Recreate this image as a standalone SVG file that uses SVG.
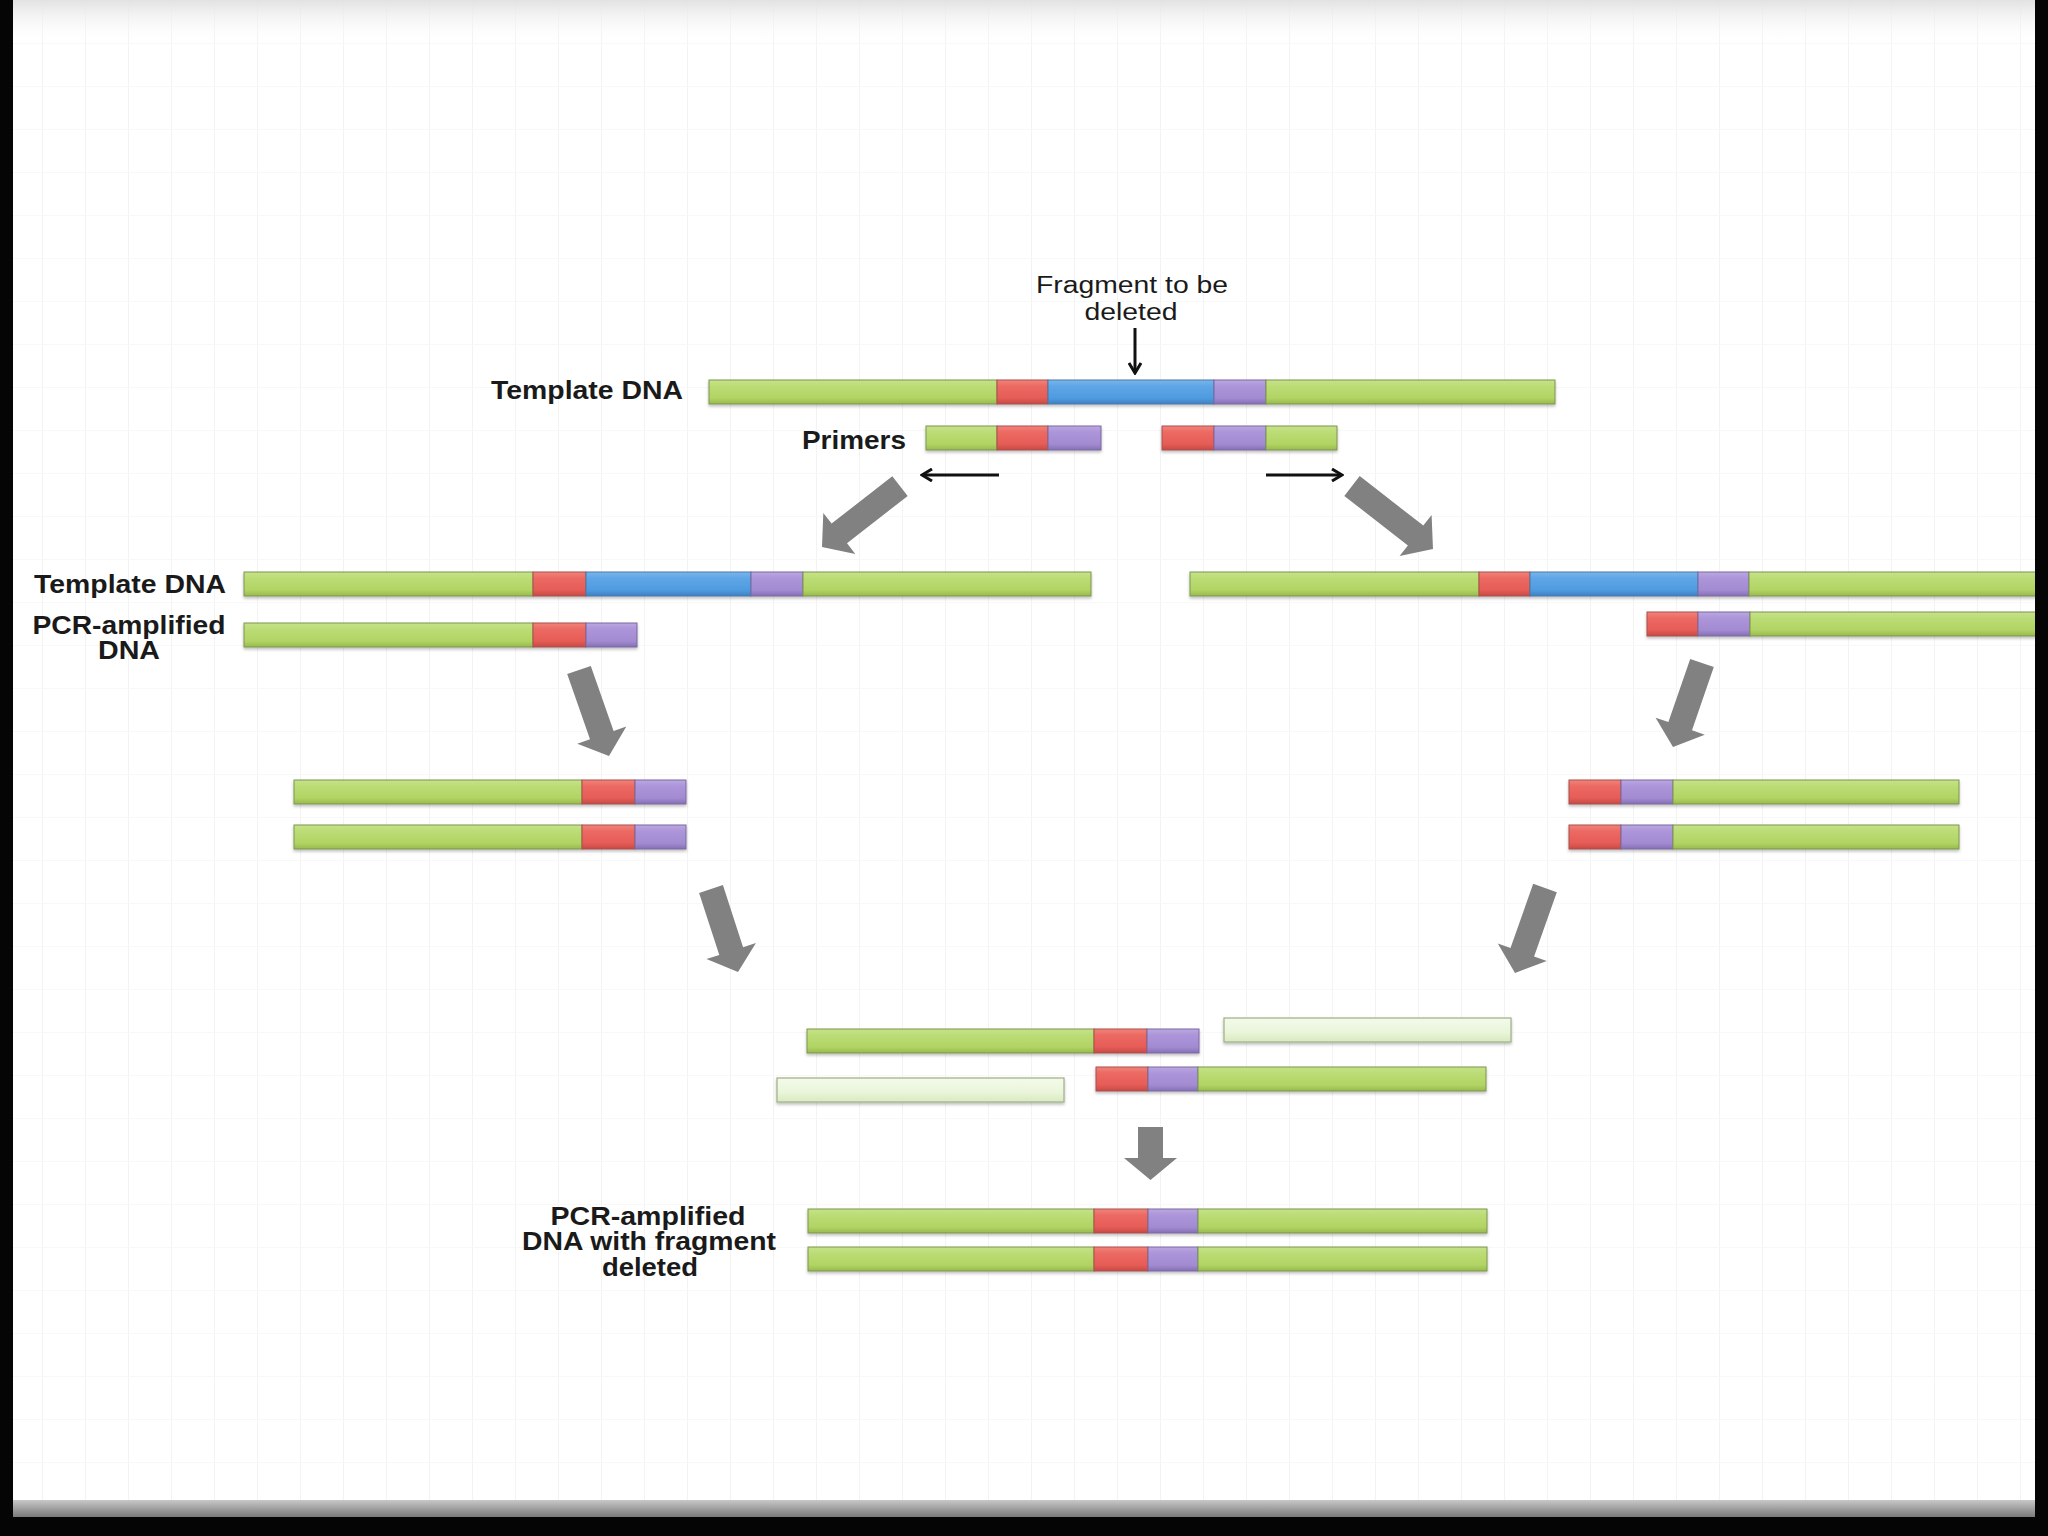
<svg xmlns="http://www.w3.org/2000/svg" width="2048" height="1536" viewBox="0 0 2048 1536">
<defs>
<style>
.g{fill:url(#gGreen);stroke:#7d9550;stroke-width:1}
.r{fill:url(#gRed);stroke:#a8504a;stroke-width:1}
.b{fill:url(#gBlue);stroke:#4a78a8;stroke-width:1}
.p{fill:url(#gPurple);stroke:#7a68a0;stroke-width:1}
.lg{fill:url(#gLight);stroke:#9db085;stroke-width:1.2}
.bar{filter:url(#shadow)}
.lbl{font-family:"Liberation Sans",Arial,sans-serif;font-weight:bold;font-size:25px;fill:#1a1a1a}
.note{font-family:"Liberation Sans",Arial,sans-serif;font-size:23px;fill:#1a1a1a}
.blk{fill:#818181}
.thin{stroke:#111;stroke-width:3;fill:none}
</style>
<linearGradient id="gGreen" x1="0" y1="0" x2="0" y2="1">
<stop offset="0" stop-color="#c6e289"/><stop offset="0.25" stop-color="#bcdc76"/><stop offset="0.75" stop-color="#b1d464"/><stop offset="1" stop-color="#98b94f"/>
</linearGradient>
<linearGradient id="gRed" x1="0" y1="0" x2="0" y2="1">
<stop offset="0" stop-color="#f2847c"/><stop offset="0.25" stop-color="#ec6a63"/><stop offset="0.75" stop-color="#e65c56"/><stop offset="1" stop-color="#c64a45"/>
</linearGradient>
<linearGradient id="gBlue" x1="0" y1="0" x2="0" y2="1">
<stop offset="0" stop-color="#79b6ec"/><stop offset="0.25" stop-color="#5ea6e6"/><stop offset="0.75" stop-color="#4f9be0"/><stop offset="1" stop-color="#3f80c0"/>
</linearGradient>
<linearGradient id="gPurple" x1="0" y1="0" x2="0" y2="1">
<stop offset="0" stop-color="#bca8e2"/><stop offset="0.25" stop-color="#ac95d9"/><stop offset="0.75" stop-color="#a38bd2"/><stop offset="1" stop-color="#8670b4"/>
</linearGradient>
<linearGradient id="gLight" x1="0" y1="0" x2="0" y2="1">
<stop offset="0" stop-color="#f4faea"/><stop offset="0.6" stop-color="#eaf5da"/><stop offset="1" stop-color="#d9eac0"/>
</linearGradient>
<linearGradient id="gTop" x1="0" y1="0" x2="0" y2="1">
<stop offset="0" stop-color="#e2e2e2"/><stop offset="1" stop-color="#ffffff" stop-opacity="0"/>
</linearGradient>
<linearGradient id="gEdge" x1="0" y1="0" x2="0" y2="1">
<stop offset="0" stop-color="#c8c8c8"/><stop offset="0.5" stop-color="#a0a0a0"/><stop offset="1" stop-color="#7a7a7a"/>
</linearGradient>
<pattern id="grid" x="0" y="1" width="43" height="43" patternUnits="userSpaceOnUse">
<path d="M42.5,0 V43" stroke="#f3f3f3" stroke-width="1" fill="none"/>
<path d="M0,42.5 H43" stroke="#f8f8f8" stroke-width="1" fill="none"/>
</pattern>
<filter id="shadow" x="-5%" y="-40%" width="110%" height="200%">
<feDropShadow dx="0" dy="2" stdDeviation="1.5" flood-color="#000" flood-opacity="0.25"/>
</filter>
<marker id="head" viewBox="0 0 14 14" markerWidth="14" markerHeight="14" refX="12" refY="7" orient="auto" markerUnits="userSpaceOnUse">
<path d="M2,1 L12,7 L2,13" fill="none" stroke="#111" stroke-width="3"/>
</marker>
</defs>

<!-- page -->
<rect x="0" y="0" width="2048" height="1536" fill="#ffffff"/>
<rect x="0" y="0" width="2048" height="1500" fill="url(#grid)"/>
<rect x="0" y="0" width="2048" height="45" fill="url(#gTop)"/>

<!-- connectors -->
<g id="connectors">
<line class="thin" x1="1135" y1="328" x2="1135" y2="373" marker-end="url(#head)"/>
<line class="thin" x1="999" y1="475" x2="922" y2="475" marker-end="url(#head)"/>
<line class="thin" x1="1266" y1="475" x2="1342" y2="475" marker-end="url(#head)"/>
<polygon class="blk" points="892.3,476.2 831.6,523.6 823.3,512.9 822,547 855.3,553.9 847,543.3 907.7,495.9"/>
<polygon class="blk" points="1344.3,495.9 1407.9,545.4 1399.6,556 1433,549 1431.6,515 1423.3,525.6 1359.7,476.1"/>
<polygon class="blk" points="567.2,674.1 590,739.3 577.3,743.8 609,756 626.3,726.6 613.6,731.1 590.8,665.9"/>
<polygon class="blk" points="1690.2,658.9 1668.4,722.1 1655.6,717.7 1673,747 1704.8,734.7 1692,730.3 1713.8,667.1"/>
<polygon class="blk" points="699.1,892.9 719.3,955 706.5,959.1 738,972 755.9,943.1 743.1,947.2 722.9,885.1"/>
<polygon class="blk" points="1533.2,883.8 1510.5,948.1 1497.8,943.6 1515,973 1546.8,961 1534.1,956.5 1556.8,892.2"/>
<polygon class="blk" points="1138,1127 1163,1127 1163,1158 1177,1158 1150.5,1180 1124,1158 1138,1158"/>
</g>

<!-- labels -->
<g id="label-fragment">
<text class="note" x="1132" y="293" text-anchor="middle" textLength="192" lengthAdjust="spacingAndGlyphs">Fragment to be</text>
<text class="note" x="1131" y="320" text-anchor="middle" textLength="93" lengthAdjust="spacingAndGlyphs">deleted</text>
</g>
<g id="label-template-top"><text class="lbl" x="491" y="399" textLength="192" lengthAdjust="spacingAndGlyphs">Template DNA</text></g>
<g id="label-primers"><text class="lbl" x="802" y="449" textLength="104" lengthAdjust="spacingAndGlyphs">Primers</text></g>
<g id="label-template-left"><text class="lbl" x="34" y="593" textLength="192" lengthAdjust="spacingAndGlyphs">Template DNA</text></g>
<g id="label-pcr-left">
<text class="lbl" x="129" y="634" text-anchor="middle" textLength="193" lengthAdjust="spacingAndGlyphs">PCR-amplified</text>
<text class="lbl" x="129" y="659" text-anchor="middle" textLength="62" lengthAdjust="spacingAndGlyphs">DNA</text>
</g>
<g id="label-final">
<text class="lbl" x="648" y="1225" text-anchor="middle" textLength="195" lengthAdjust="spacingAndGlyphs">PCR-amplified</text>
<text class="lbl" x="649" y="1250" text-anchor="middle" textLength="254" lengthAdjust="spacingAndGlyphs">DNA with fragment</text>
<text class="lbl" x="650" y="1276" text-anchor="middle" textLength="96" lengthAdjust="spacingAndGlyphs">deleted</text>
</g>

<!-- bars -->
<g id="template-top" class="bar">
<rect class="g" x="709" y="380" width="288" height="24"/><rect class="r" x="997" y="380" width="51" height="24"/><rect class="b" x="1048" y="380" width="166" height="24"/><rect class="p" x="1214" y="380" width="52" height="24"/><rect class="g" x="1266" y="380" width="289" height="24"/>
</g>
<g id="primer-left" class="bar">
<rect class="g" x="926" y="426" width="71" height="24"/><rect class="r" x="997" y="426" width="51" height="24"/><rect class="p" x="1048" y="426" width="53" height="24"/>
</g>
<g id="primer-right" class="bar">
<rect class="r" x="1162" y="426" width="52" height="24"/><rect class="p" x="1214" y="426" width="52" height="24"/><rect class="g" x="1266" y="426" width="71" height="24"/>
</g>
<g id="template-left" class="bar">
<rect class="g" x="244" y="572" width="289" height="24"/><rect class="r" x="533" y="572" width="53" height="24"/><rect class="b" x="586" y="572" width="165" height="24"/><rect class="p" x="751" y="572" width="52" height="24"/><rect class="g" x="803" y="572" width="288" height="24"/>
</g>
<g id="pcr-left" class="bar">
<rect class="g" x="244" y="623" width="289" height="24"/><rect class="r" x="533" y="623" width="53" height="24"/><rect class="p" x="586" y="623" width="51" height="24"/>
</g>
<g id="template-right" class="bar">
<rect class="g" x="1190" y="572" width="289" height="24"/><rect class="r" x="1479" y="572" width="51" height="24"/><rect class="b" x="1530" y="572" width="168" height="24"/><rect class="p" x="1698" y="572" width="51" height="24"/><rect class="g" x="1749" y="572" width="287" height="24"/>
</g>
<g id="pcr-right" class="bar">
<rect class="r" x="1647" y="612" width="51" height="24"/><rect class="p" x="1698" y="612" width="52" height="24"/><rect class="g" x="1750" y="612" width="286" height="24"/>
</g>
<g id="left-copy-1" class="bar">
<rect class="g" x="294" y="780" width="288" height="24"/><rect class="r" x="582" y="780" width="53" height="24"/><rect class="p" x="635" y="780" width="51" height="24"/>
</g>
<g id="left-copy-2" class="bar">
<rect class="g" x="294" y="825" width="288" height="24"/><rect class="r" x="582" y="825" width="53" height="24"/><rect class="p" x="635" y="825" width="51" height="24"/>
</g>
<g id="right-copy-1" class="bar">
<rect class="r" x="1569" y="780" width="52" height="24"/><rect class="p" x="1621" y="780" width="52" height="24"/><rect class="g" x="1673" y="780" width="286" height="24"/>
</g>
<g id="right-copy-2" class="bar">
<rect class="r" x="1569" y="825" width="52" height="24"/><rect class="p" x="1621" y="825" width="52" height="24"/><rect class="g" x="1673" y="825" width="286" height="24"/>
</g>
<g id="annealed-left" class="bar">
<rect class="g" x="807" y="1029" width="287" height="24"/><rect class="r" x="1094" y="1029" width="53" height="24"/><rect class="p" x="1147" y="1029" width="52" height="24"/>
</g>
<g id="light-top" class="bar">
<rect class="lg" x="1224" y="1018" width="287" height="24"/>
</g>
<g id="light-bottom" class="bar">
<rect class="lg" x="777" y="1078" width="287" height="24"/>
</g>
<g id="annealed-right" class="bar">
<rect class="r" x="1096" y="1067" width="52" height="24"/><rect class="p" x="1148" y="1067" width="50" height="24"/><rect class="g" x="1198" y="1067" width="288" height="24"/>
</g>
<g id="final-1" class="bar">
<rect class="g" x="808" y="1209" width="286" height="24"/><rect class="r" x="1094" y="1209" width="54" height="24"/><rect class="p" x="1148" y="1209" width="50" height="24"/><rect class="g" x="1198" y="1209" width="289" height="24"/>
</g>
<g id="final-2" class="bar">
<rect class="g" x="808" y="1247" width="286" height="24"/><rect class="r" x="1094" y="1247" width="54" height="24"/><rect class="p" x="1148" y="1247" width="50" height="24"/><rect class="g" x="1198" y="1247" width="289" height="24"/>
</g>

<!-- frame -->
<rect x="0" y="1500" width="2048" height="17" fill="url(#gEdge)"/>
<rect x="0" y="1517" width="2048" height="19" fill="#050505"/>
<rect x="0" y="0" width="13" height="1536" fill="#050505"/>
<rect x="2035" y="0" width="13" height="1536" fill="#050505"/>
</svg>
